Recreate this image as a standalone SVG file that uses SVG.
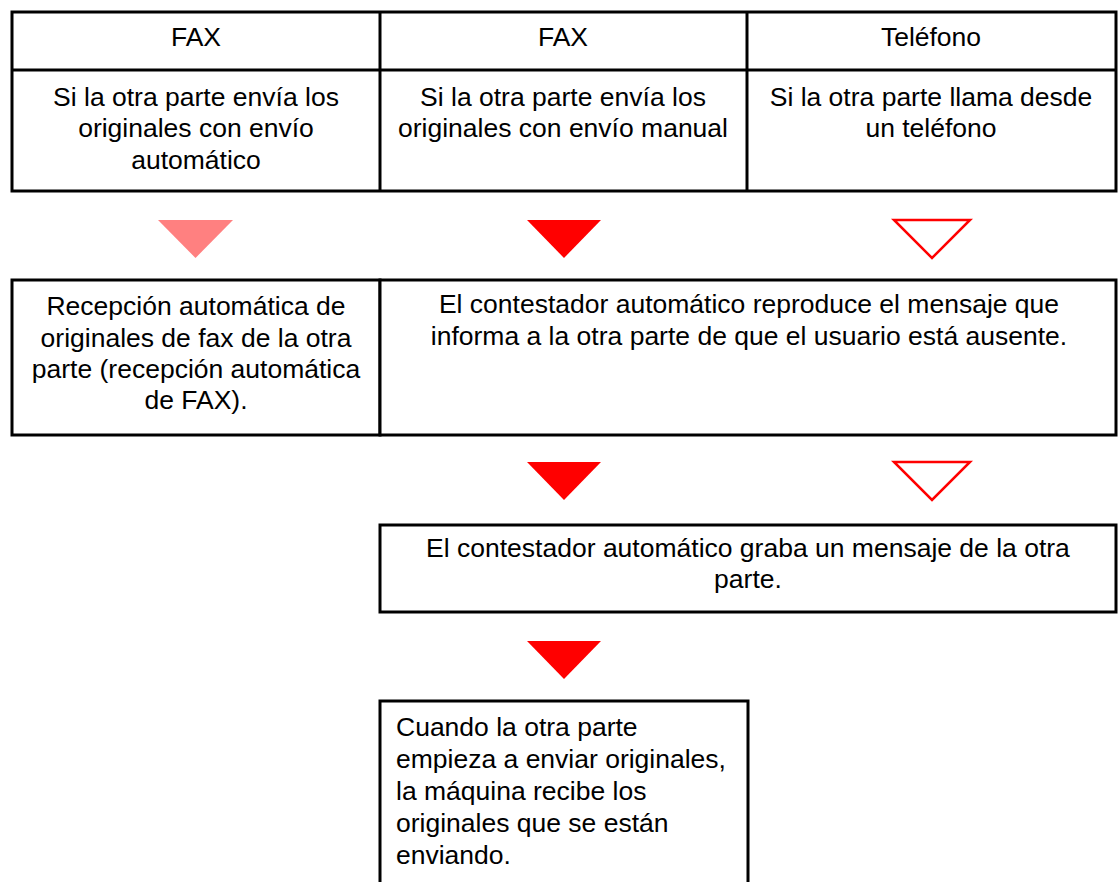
<svg xmlns="http://www.w3.org/2000/svg" width="1120" height="882" viewBox="0 0 1120 882">
<style>
.b{fill:#fff;stroke:#000;stroke-width:3}
.ln{stroke:#000;stroke-width:3;fill:none}
.t{font-family:"Liberation Sans",Arial,sans-serif;font-size:26.5px;fill:#000}
.c{text-anchor:middle}
.solid{fill:#ff0000}
.light{fill:#ff8080}
.open{fill:none;stroke:#ff0000;stroke-width:2.5}
</style>
<rect width="1120" height="882" fill="#fff"/>
<g id="header-table">
<rect class="b" x="12" y="12" width="1104" height="179"/>
<line class="ln" x1="12" y1="70" x2="1116" y2="70"/>
<line class="ln" x1="380" y1="12" x2="380" y2="191"/>
<line class="ln" x1="747" y1="12" x2="747" y2="191"/>
</g>
<g id="col1">
<text class="t c" x="196" y="46">FAX</text>
<text class="t c" x="196" y="106">Si la otra parte envía los</text>
<text class="t c" x="196" y="137">originales con envío</text>
<text class="t c" x="196" y="169">automático</text>
</g>
<g id="col2">
<text class="t c" x="563" y="46">FAX</text>
<text class="t c" x="563" y="106">Si la otra parte envía los</text>
<text class="t c" x="563" y="137">originales con envío manual</text>
</g>
<g id="col3">
<text class="t c" x="931" y="46">Teléfono</text>
<text class="t c" x="931" y="106">Si la otra parte llama desde</text>
<text class="t c" x="931" y="137">un teléfono</text>
</g>
<g id="connectors">
<polygon class="light" points="158,220 233,220 195.5,258"/>
<polygon class="solid" points="527,220 601,220 564,258"/>
<polygon class="open" points="894,220 970,220 932,258"/>
<polygon class="solid" points="527,462 601,462 564,500"/>
<polygon class="open" points="894,462 970,462 932,500"/>
<polygon class="solid" points="527,641 601,641 564,679"/>
</g>
<g id="auto-receive">
<rect class="b" x="12" y="280" width="368" height="155"/>
<text class="t c" x="196" y="315">Recepción automática de</text>
<text class="t c" x="196" y="347">originales de fax de la otra</text>
<text class="t c" x="196" y="378">parte (recepción automática</text>
<text class="t c" x="196" y="409">de FAX).</text>
</g>
<g id="answering-plays">
<rect class="b" x="380" y="280" width="736" height="155"/>
<text class="t c" x="749" y="313">El contestador automático reproduce el mensaje que</text>
<text class="t c" x="749" y="345">informa a la otra parte de que el usuario está ausente.</text>
</g>
<g id="answering-records">
<rect class="b" x="380" y="525" width="736" height="87"/>
<text class="t c" x="748" y="557">El contestador automático graba un mensaje de la otra</text>
<text class="t c" x="748" y="588">parte.</text>
</g>
<g id="machine-receives">
<path class="ln" d="M380,884 V701 H748 V884"/>
<text class="t" x="396" y="736">Cuando la otra parte</text>
<text class="t" x="396" y="768">empieza a enviar originales,</text>
<text class="t" x="396" y="800">la máquina recibe los</text>
<text class="t" x="396" y="832">originales que se están</text>
<text class="t" x="396" y="864">enviando.</text>
</g>
</svg>
